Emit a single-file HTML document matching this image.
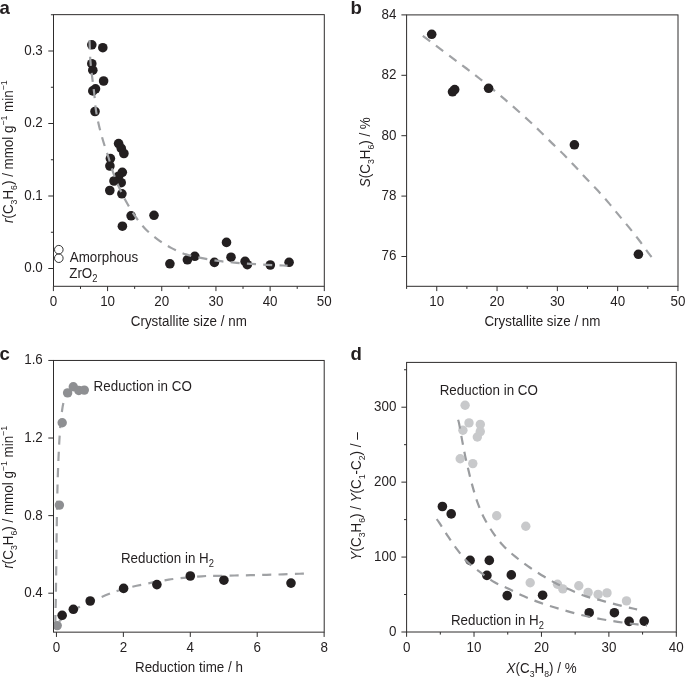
<!DOCTYPE html>
<html><head><meta charset="utf-8"><style>
html,body{margin:0;padding:0;background:#fff;width:685px;height:677px;overflow:hidden;}
body{position:relative;font-family:"Liberation Sans",sans-serif;}
</style></head><body>
<svg width="685" height="677" viewBox="0 0 685 677" style="position:absolute;left:0;top:0;will-change:transform">
<rect x="0" y="0" width="685" height="677" fill="#fff"/>
<g font-family='"Liberation Sans", sans-serif' fill="#231f20">
<rect x="53.50" y="14.65" width="270.80" height="271.65" fill="none" stroke="#2e2c2c" stroke-width="1.00"/>
<line x1="53.40" y1="286.30" x2="53.40" y2="291.10" stroke="#2e2c2c" stroke-width="1.00"/>
<line x1="107.58" y1="286.30" x2="107.58" y2="291.10" stroke="#2e2c2c" stroke-width="1.00"/>
<line x1="161.76" y1="286.30" x2="161.76" y2="291.10" stroke="#2e2c2c" stroke-width="1.00"/>
<line x1="215.94" y1="286.30" x2="215.94" y2="291.10" stroke="#2e2c2c" stroke-width="1.00"/>
<line x1="270.12" y1="286.30" x2="270.12" y2="291.10" stroke="#2e2c2c" stroke-width="1.00"/>
<line x1="324.30" y1="286.30" x2="324.30" y2="291.10" stroke="#2e2c2c" stroke-width="1.00"/>
<line x1="80.49" y1="286.30" x2="80.49" y2="288.90" stroke="#2e2c2c" stroke-width="1.00"/>
<line x1="134.67" y1="286.30" x2="134.67" y2="288.90" stroke="#2e2c2c" stroke-width="1.00"/>
<line x1="188.85" y1="286.30" x2="188.85" y2="288.90" stroke="#2e2c2c" stroke-width="1.00"/>
<line x1="243.03" y1="286.30" x2="243.03" y2="288.90" stroke="#2e2c2c" stroke-width="1.00"/>
<line x1="297.21" y1="286.30" x2="297.21" y2="288.90" stroke="#2e2c2c" stroke-width="1.00"/>
<line x1="48.30" y1="268.50" x2="53.50" y2="268.50" stroke="#2e2c2c" stroke-width="1.00"/>
<line x1="48.30" y1="196.00" x2="53.50" y2="196.00" stroke="#2e2c2c" stroke-width="1.00"/>
<line x1="48.30" y1="123.50" x2="53.50" y2="123.50" stroke="#2e2c2c" stroke-width="1.00"/>
<line x1="48.30" y1="51.00" x2="53.50" y2="51.00" stroke="#2e2c2c" stroke-width="1.00"/>
<line x1="50.90" y1="232.25" x2="53.50" y2="232.25" stroke="#2e2c2c" stroke-width="1.00"/>
<line x1="50.90" y1="159.75" x2="53.50" y2="159.75" stroke="#2e2c2c" stroke-width="1.00"/>
<line x1="50.90" y1="87.25" x2="53.50" y2="87.25" stroke="#2e2c2c" stroke-width="1.00"/>
<line x1="50.90" y1="14.75" x2="53.50" y2="14.75" stroke="#2e2c2c" stroke-width="1.00"/>
<text transform="translate(53.40,306.40) scale(0.9371,1)" font-size="14.3" font-weight="normal" text-anchor="middle" >0</text>
<text transform="translate(107.58,306.40) scale(0.9371,1)" font-size="14.3" font-weight="normal" text-anchor="middle" >10</text>
<text transform="translate(161.76,306.40) scale(0.9371,1)" font-size="14.3" font-weight="normal" text-anchor="middle" >20</text>
<text transform="translate(215.94,306.40) scale(0.9371,1)" font-size="14.3" font-weight="normal" text-anchor="middle" >30</text>
<text transform="translate(270.12,306.40) scale(0.9371,1)" font-size="14.3" font-weight="normal" text-anchor="middle" >40</text>
<text transform="translate(324.30,306.40) scale(0.9371,1)" font-size="14.3" font-weight="normal" text-anchor="middle" >50</text>
<text transform="translate(42.80,272.40) scale(0.9371,1)" font-size="14.3" font-weight="normal" text-anchor="end" >0.0</text>
<text transform="translate(42.80,199.90) scale(0.9371,1)" font-size="14.3" font-weight="normal" text-anchor="end" >0.1</text>
<text transform="translate(42.80,127.40) scale(0.9371,1)" font-size="14.3" font-weight="normal" text-anchor="end" >0.2</text>
<text transform="translate(42.80,54.90) scale(0.9371,1)" font-size="14.3" font-weight="normal" text-anchor="end" >0.3</text>
<text transform="translate(188.80,325.80) scale(0.9371,1)" font-size="14.3" font-weight="normal" text-anchor="middle" >Crystallite size / nm</text>
<circle cx="91.80" cy="44.80" r="4.80" fill="#231f20"/>
<circle cx="102.80" cy="47.70" r="4.80" fill="#231f20"/>
<circle cx="91.80" cy="63.70" r="4.80" fill="#231f20"/>
<circle cx="92.80" cy="70.20" r="4.80" fill="#231f20"/>
<circle cx="103.60" cy="81.00" r="4.80" fill="#231f20"/>
<circle cx="95.50" cy="88.80" r="4.80" fill="#231f20"/>
<circle cx="92.80" cy="90.90" r="4.80" fill="#231f20"/>
<circle cx="95.00" cy="111.50" r="4.80" fill="#231f20"/>
<circle cx="118.60" cy="143.60" r="4.80" fill="#231f20"/>
<circle cx="121.30" cy="148.40" r="4.80" fill="#231f20"/>
<circle cx="123.90" cy="153.50" r="4.80" fill="#231f20"/>
<circle cx="110.40" cy="158.60" r="4.80" fill="#231f20"/>
<circle cx="109.90" cy="166.00" r="4.80" fill="#231f20"/>
<circle cx="122.30" cy="172.30" r="4.80" fill="#231f20"/>
<circle cx="118.60" cy="176.20" r="4.80" fill="#231f20"/>
<circle cx="114.00" cy="181.00" r="4.80" fill="#231f20"/>
<circle cx="121.20" cy="182.70" r="4.80" fill="#231f20"/>
<circle cx="109.80" cy="190.50" r="4.80" fill="#231f20"/>
<circle cx="121.90" cy="193.80" r="4.80" fill="#231f20"/>
<circle cx="131.10" cy="215.80" r="4.80" fill="#231f20"/>
<circle cx="154.00" cy="215.30" r="4.80" fill="#231f20"/>
<circle cx="122.40" cy="226.20" r="4.80" fill="#231f20"/>
<circle cx="169.90" cy="263.80" r="4.80" fill="#231f20"/>
<circle cx="187.40" cy="259.80" r="4.80" fill="#231f20"/>
<circle cx="194.80" cy="256.30" r="4.80" fill="#231f20"/>
<circle cx="214.40" cy="262.40" r="4.80" fill="#231f20"/>
<circle cx="226.50" cy="242.40" r="4.80" fill="#231f20"/>
<circle cx="231.00" cy="257.20" r="4.80" fill="#231f20"/>
<circle cx="245.10" cy="261.40" r="4.80" fill="#231f20"/>
<circle cx="247.30" cy="264.70" r="4.80" fill="#231f20"/>
<circle cx="270.30" cy="265.00" r="4.80" fill="#231f20"/>
<circle cx="289.10" cy="262.30" r="4.80" fill="#231f20"/>
<path d="M89.50,40.30 C89.65,43.70 89.96,54.60 90.40,60.70 C90.84,66.80 91.52,71.49 92.15,76.90 C92.78,82.31 93.58,87.73 94.20,93.15 C94.82,98.57 95.07,104.06 95.85,109.40 C96.63,114.74 97.68,119.93 98.90,125.20 C100.12,130.47 101.60,135.78 103.15,141.00 C104.70,146.22 106.58,151.37 108.20,156.50 C109.83,161.63 111.08,166.63 112.90,171.80 C114.73,176.97 116.90,182.47 119.15,187.50 C121.40,192.53 123.76,197.25 126.40,202.00 C129.04,206.75 131.88,211.56 135.00,216.00 C138.12,220.44 141.39,224.77 145.15,228.65 C148.91,232.53 153.22,236.10 157.55,239.30 C161.88,242.50 166.41,245.33 171.15,247.85 C175.89,250.37 180.83,252.68 186.00,254.40 C191.17,256.12 196.75,257.07 202.15,258.15 C207.55,259.23 213.05,260.16 218.40,260.90 C223.75,261.64 228.83,262.12 234.25,262.60 C239.67,263.08 245.42,263.43 250.90,263.80 C256.38,264.17 261.77,264.52 267.15,264.80 C272.52,265.08 279.74,265.38 283.15,265.50 C286.56,265.62 286.86,265.50 287.60,265.50" fill="none" stroke="#a0a2a5" stroke-width="2.20" stroke-dasharray="9.1 7.23" stroke-dashoffset="0.00"/>
<circle cx="58.80" cy="249.70" r="4.3" fill="none" stroke="#333" stroke-width="1.0"/>
<circle cx="58.80" cy="258.20" r="4.3" fill="none" stroke="#333" stroke-width="1.0"/>
<text transform="translate(69.70,261.80) scale(0.9371,1)" font-size="14.3" font-weight="normal" text-anchor="start" >Amorphous</text>
<text transform="translate(69.20,277.70) scale(0.9371,1)" font-size="14.3" font-weight="normal" text-anchor="start" ><tspan>ZrO</tspan><tspan dy="4.00" font-size="10.0">2</tspan></text>
<text transform="translate(13.1,151.7) rotate(-90) scale(0.9371,1)" font-size="14.3" text-anchor="middle"><tspan font-style="italic">r</tspan><tspan>(C</tspan><tspan dy="4.00" font-size="9.3">3</tspan><tspan dy="-4.00">H</tspan><tspan dy="4.00" font-size="9.3">6</tspan><tspan dy="-4.00">) / mmol g</tspan><tspan dy="-6.00" font-size="9.3">−1</tspan><tspan dy="6.00"> min</tspan><tspan dy="-6.00" font-size="9.3">−1</tspan></text>
<text x="-0.60" y="14.00" font-size="18.6" font-weight="bold" text-anchor="start" >a</text>
<rect x="406.60" y="14.90" width="271.40" height="271.40" fill="none" stroke="#2e2c2c" stroke-width="1.00"/>
<line x1="436.75" y1="286.30" x2="436.75" y2="291.10" stroke="#2e2c2c" stroke-width="1.00"/>
<line x1="497.05" y1="286.30" x2="497.05" y2="291.10" stroke="#2e2c2c" stroke-width="1.00"/>
<line x1="557.35" y1="286.30" x2="557.35" y2="291.10" stroke="#2e2c2c" stroke-width="1.00"/>
<line x1="617.65" y1="286.30" x2="617.65" y2="291.10" stroke="#2e2c2c" stroke-width="1.00"/>
<line x1="677.95" y1="286.30" x2="677.95" y2="291.10" stroke="#2e2c2c" stroke-width="1.00"/>
<line x1="406.60" y1="286.30" x2="406.60" y2="288.90" stroke="#2e2c2c" stroke-width="1.00"/>
<line x1="466.90" y1="286.30" x2="466.90" y2="288.90" stroke="#2e2c2c" stroke-width="1.00"/>
<line x1="527.20" y1="286.30" x2="527.20" y2="288.90" stroke="#2e2c2c" stroke-width="1.00"/>
<line x1="587.50" y1="286.30" x2="587.50" y2="288.90" stroke="#2e2c2c" stroke-width="1.00"/>
<line x1="647.80" y1="286.30" x2="647.80" y2="288.90" stroke="#2e2c2c" stroke-width="1.00"/>
<line x1="401.40" y1="256.50" x2="406.60" y2="256.50" stroke="#2e2c2c" stroke-width="1.00"/>
<line x1="401.40" y1="196.10" x2="406.60" y2="196.10" stroke="#2e2c2c" stroke-width="1.00"/>
<line x1="401.40" y1="135.70" x2="406.60" y2="135.70" stroke="#2e2c2c" stroke-width="1.00"/>
<line x1="401.40" y1="75.30" x2="406.60" y2="75.30" stroke="#2e2c2c" stroke-width="1.00"/>
<line x1="401.40" y1="14.90" x2="406.60" y2="14.90" stroke="#2e2c2c" stroke-width="1.00"/>
<text transform="translate(436.75,306.40) scale(0.9371,1)" font-size="14.3" font-weight="normal" text-anchor="middle" >10</text>
<text transform="translate(497.05,306.40) scale(0.9371,1)" font-size="14.3" font-weight="normal" text-anchor="middle" >20</text>
<text transform="translate(557.35,306.40) scale(0.9371,1)" font-size="14.3" font-weight="normal" text-anchor="middle" >30</text>
<text transform="translate(617.65,306.40) scale(0.9371,1)" font-size="14.3" font-weight="normal" text-anchor="middle" >40</text>
<text transform="translate(677.95,306.40) scale(0.9371,1)" font-size="14.3" font-weight="normal" text-anchor="middle" >50</text>
<text transform="translate(396.40,260.40) scale(0.9371,1)" font-size="14.3" font-weight="normal" text-anchor="end" >76</text>
<text transform="translate(396.40,200.00) scale(0.9371,1)" font-size="14.3" font-weight="normal" text-anchor="end" >78</text>
<text transform="translate(396.40,139.60) scale(0.9371,1)" font-size="14.3" font-weight="normal" text-anchor="end" >80</text>
<text transform="translate(396.40,79.20) scale(0.9371,1)" font-size="14.3" font-weight="normal" text-anchor="end" >82</text>
<text transform="translate(396.40,18.80) scale(0.9371,1)" font-size="14.3" font-weight="normal" text-anchor="end" >84</text>
<text transform="translate(542.40,326.00) scale(0.9371,1)" font-size="14.3" font-weight="normal" text-anchor="middle" >Crystallite size / nm</text>
<path d="M423.30,36.30 C423.95,36.78 420.00,33.83 427.20,39.20 C434.40,44.57 457.78,61.95 466.50,68.50 C475.22,75.05 473.15,73.38 479.50,78.50 C485.85,83.62 496.37,92.17 504.60,99.20 C512.83,106.23 522.88,115.23 528.90,120.70 C534.92,126.17 536.82,128.22 540.70,132.00 C544.58,135.78 548.32,139.60 552.20,143.40 C556.08,147.20 560.17,150.93 564.00,154.80 C567.83,158.67 571.45,162.60 575.20,166.60 C578.95,170.60 582.73,174.80 586.50,178.80 C590.27,182.80 594.10,186.58 597.80,190.60 C601.50,194.62 605.17,198.77 608.70,202.90 C612.23,207.03 615.55,211.23 619.00,215.40 C622.45,219.57 625.95,223.63 629.40,227.90 C632.85,232.17 636.38,236.62 639.70,241.00 C643.02,245.38 647.22,251.42 649.30,254.20 C651.38,256.98 651.72,257.12 652.20,257.70" fill="none" stroke="#a0a2a5" stroke-width="2.20" stroke-dasharray="9.1 7.23" stroke-dashoffset="-0.80"/>
<circle cx="431.70" cy="34.30" r="4.80" fill="#231f20"/>
<circle cx="452.50" cy="91.80" r="4.80" fill="#231f20"/>
<circle cx="454.70" cy="89.60" r="4.80" fill="#231f20"/>
<circle cx="488.60" cy="88.30" r="4.80" fill="#231f20"/>
<circle cx="574.40" cy="144.80" r="4.80" fill="#231f20"/>
<circle cx="638.40" cy="254.30" r="4.80" fill="#231f20"/>
<text transform="translate(370.0,152.2) rotate(-90) scale(0.9371,1)" font-size="14.3" text-anchor="middle"><tspan font-style="italic">S</tspan><tspan>(C</tspan><tspan dy="4.00" font-size="9.3">3</tspan><tspan dy="-4.00">H</tspan><tspan dy="4.00" font-size="9.3">6</tspan><tspan dy="-4.00">) / %</tspan></text>
<text x="350.60" y="14.00" font-size="18.6" font-weight="bold" text-anchor="start" >b</text>
<rect x="53.50" y="360.45" width="270.70" height="271.70" fill="none" stroke="#2e2c2c" stroke-width="1.00"/>
<line x1="56.45" y1="632.15" x2="56.45" y2="636.95" stroke="#2e2c2c" stroke-width="1.00"/>
<line x1="123.37" y1="632.15" x2="123.37" y2="636.95" stroke="#2e2c2c" stroke-width="1.00"/>
<line x1="190.29" y1="632.15" x2="190.29" y2="636.95" stroke="#2e2c2c" stroke-width="1.00"/>
<line x1="257.21" y1="632.15" x2="257.21" y2="636.95" stroke="#2e2c2c" stroke-width="1.00"/>
<line x1="324.13" y1="632.15" x2="324.13" y2="636.95" stroke="#2e2c2c" stroke-width="1.00"/>
<line x1="48.30" y1="593.20" x2="53.50" y2="593.20" stroke="#2e2c2c" stroke-width="1.00"/>
<line x1="48.30" y1="515.62" x2="53.50" y2="515.62" stroke="#2e2c2c" stroke-width="1.00"/>
<line x1="48.30" y1="438.03" x2="53.50" y2="438.03" stroke="#2e2c2c" stroke-width="1.00"/>
<line x1="48.30" y1="360.45" x2="53.50" y2="360.45" stroke="#2e2c2c" stroke-width="1.00"/>
<text transform="translate(56.45,652.25) scale(0.9371,1)" font-size="14.3" font-weight="normal" text-anchor="middle" >0</text>
<text transform="translate(123.37,652.25) scale(0.9371,1)" font-size="14.3" font-weight="normal" text-anchor="middle" >2</text>
<text transform="translate(190.29,652.25) scale(0.9371,1)" font-size="14.3" font-weight="normal" text-anchor="middle" >4</text>
<text transform="translate(257.21,652.25) scale(0.9371,1)" font-size="14.3" font-weight="normal" text-anchor="middle" >6</text>
<text transform="translate(324.13,652.25) scale(0.9371,1)" font-size="14.3" font-weight="normal" text-anchor="middle" >8</text>
<text transform="translate(42.80,597.10) scale(0.9371,1)" font-size="14.3" font-weight="normal" text-anchor="end" >0.4</text>
<text transform="translate(42.80,519.52) scale(0.9371,1)" font-size="14.3" font-weight="normal" text-anchor="end" >0.8</text>
<text transform="translate(42.80,441.93) scale(0.9371,1)" font-size="14.3" font-weight="normal" text-anchor="end" >1.2</text>
<text transform="translate(42.80,364.35) scale(0.9371,1)" font-size="14.3" font-weight="normal" text-anchor="end" >1.6</text>
<text transform="translate(188.90,672.05) scale(0.9371,1)" font-size="14.3" font-weight="normal" text-anchor="middle" >Reduction time / h</text>
<path d="M55.30,631.00 C55.32,628.33 55.32,620.17 55.40,615.00 C55.48,609.83 55.67,607.50 55.80,600.00 C55.93,592.50 56.05,581.67 56.20,570.00 C56.35,558.33 56.52,542.50 56.70,530.00 C56.88,517.50 57.10,504.50 57.30,495.00 C57.50,485.50 57.68,479.50 57.90,473.00 C58.12,466.50 58.35,461.50 58.60,456.00 C58.85,450.50 59.08,445.33 59.40,440.00 C59.72,434.67 60.07,428.83 60.50,424.00 C60.93,419.17 61.52,414.50 62.00,411.00 C62.48,407.50 62.82,405.50 63.40,403.00 C63.98,400.50 64.65,397.92 65.50,396.00 C66.35,394.08 67.42,392.67 68.50,391.50 C69.58,390.33 70.75,389.58 72.00,389.00 C73.25,388.42 74.50,388.25 76.00,388.00 C77.50,387.75 79.33,387.62 81.00,387.50 C82.67,387.38 85.17,387.33 86.00,387.30" fill="none" stroke="#a0a2a5" stroke-width="2.20" stroke-dasharray="9.1 7.23" stroke-dashoffset="-6.80"/>
<path d="M56.50,624.50 C57.25,623.72 57.22,622.72 61.00,619.80 C64.78,616.88 71.78,611.08 79.20,607.00 C86.62,602.92 99.08,598.05 105.50,595.35 C111.92,592.65 112.56,592.39 117.75,590.80 C122.94,589.21 128.15,587.66 136.65,585.80 C145.15,583.94 157.92,581.23 168.75,579.65 C179.58,578.07 193.46,576.93 201.65,576.30 C209.84,575.67 212.43,575.98 217.90,575.85 C223.37,575.72 229.03,575.61 234.45,575.50 C239.87,575.39 245.03,575.32 250.40,575.20 C255.77,575.08 261.22,574.94 266.65,574.80 C272.08,574.66 277.53,574.52 283.00,574.35 C288.47,574.18 295.97,573.86 299.45,573.75 C302.93,573.64 303.16,573.71 303.90,573.70" fill="none" stroke="#a0a2a5" stroke-width="2.20" stroke-dasharray="9.1 7.23" stroke-dashoffset="-4.26"/>
<clipPath id="cc"><rect x="54.00" y="360.45" width="270.70" height="271.20"/></clipPath>
<g clip-path="url(#cc)">
<circle cx="57.20" cy="625.60" r="4.70" fill="#8e8f92"/>
<circle cx="59.40" cy="505.10" r="4.70" fill="#8e8f92"/>
<circle cx="62.20" cy="422.80" r="4.70" fill="#8e8f92"/>
<circle cx="67.60" cy="392.90" r="4.70" fill="#8e8f92"/>
<circle cx="73.30" cy="386.80" r="4.70" fill="#8e8f92"/>
<circle cx="78.80" cy="390.50" r="4.70" fill="#8e8f92"/>
<circle cx="84.30" cy="390.10" r="4.70" fill="#8e8f92"/>
</g>
<circle cx="62.15" cy="615.30" r="4.80" fill="#231f20"/>
<circle cx="73.35" cy="609.30" r="4.80" fill="#231f20"/>
<circle cx="90.20" cy="601.00" r="4.80" fill="#231f20"/>
<circle cx="123.60" cy="588.40" r="4.80" fill="#231f20"/>
<circle cx="156.90" cy="584.60" r="4.80" fill="#231f20"/>
<circle cx="190.30" cy="576.00" r="4.80" fill="#231f20"/>
<circle cx="223.90" cy="580.20" r="4.80" fill="#231f20"/>
<circle cx="291.00" cy="583.10" r="4.80" fill="#231f20"/>
<text transform="translate(93.60,390.50) scale(0.9371,1)" font-size="14.3" font-weight="normal" text-anchor="start" >Reduction in CO</text>
<text transform="translate(120.90,562.50) scale(0.9371,1)" font-size="14.3" font-weight="normal" text-anchor="start" ><tspan>Reduction in H</tspan><tspan dy="4.00" font-size="10.0">2</tspan></text>
<text transform="translate(13.1,497.3) rotate(-90) scale(0.9371,1)" font-size="14.3" text-anchor="middle"><tspan font-style="italic">r</tspan><tspan>(C</tspan><tspan dy="4.00" font-size="9.3">3</tspan><tspan dy="-4.00">H</tspan><tspan dy="4.00" font-size="9.3">6</tspan><tspan dy="-4.00">) / mmol g</tspan><tspan dy="-6.00" font-size="9.3">−1</tspan><tspan dy="6.00"> min</tspan><tspan dy="-6.00" font-size="9.3">−1</tspan></text>
<text x="-0.40" y="360.20" font-size="18.6" font-weight="bold" text-anchor="start" >c</text>
<rect x="406.60" y="362.40" width="269.70" height="269.60" fill="none" stroke="#2e2c2c" stroke-width="1.00"/>
<line x1="406.60" y1="632.00" x2="406.60" y2="636.80" stroke="#2e2c2c" stroke-width="1.00"/>
<line x1="474.03" y1="632.00" x2="474.03" y2="636.80" stroke="#2e2c2c" stroke-width="1.00"/>
<line x1="541.45" y1="632.00" x2="541.45" y2="636.80" stroke="#2e2c2c" stroke-width="1.00"/>
<line x1="608.88" y1="632.00" x2="608.88" y2="636.80" stroke="#2e2c2c" stroke-width="1.00"/>
<line x1="676.30" y1="632.00" x2="676.30" y2="636.80" stroke="#2e2c2c" stroke-width="1.00"/>
<line x1="440.31" y1="632.00" x2="440.31" y2="634.60" stroke="#2e2c2c" stroke-width="1.00"/>
<line x1="507.74" y1="632.00" x2="507.74" y2="634.60" stroke="#2e2c2c" stroke-width="1.00"/>
<line x1="575.16" y1="632.00" x2="575.16" y2="634.60" stroke="#2e2c2c" stroke-width="1.00"/>
<line x1="642.59" y1="632.00" x2="642.59" y2="634.60" stroke="#2e2c2c" stroke-width="1.00"/>
<line x1="401.40" y1="632.00" x2="406.60" y2="632.00" stroke="#2e2c2c" stroke-width="1.00"/>
<line x1="401.40" y1="557.07" x2="406.60" y2="557.07" stroke="#2e2c2c" stroke-width="1.00"/>
<line x1="401.40" y1="482.14" x2="406.60" y2="482.14" stroke="#2e2c2c" stroke-width="1.00"/>
<line x1="401.40" y1="407.21" x2="406.60" y2="407.21" stroke="#2e2c2c" stroke-width="1.00"/>
<line x1="404.00" y1="594.53" x2="406.60" y2="594.53" stroke="#2e2c2c" stroke-width="1.00"/>
<line x1="404.00" y1="519.61" x2="406.60" y2="519.61" stroke="#2e2c2c" stroke-width="1.00"/>
<line x1="404.00" y1="444.68" x2="406.60" y2="444.68" stroke="#2e2c2c" stroke-width="1.00"/>
<line x1="404.00" y1="369.75" x2="406.60" y2="369.75" stroke="#2e2c2c" stroke-width="1.00"/>
<text transform="translate(406.60,652.10) scale(0.9371,1)" font-size="14.3" font-weight="normal" text-anchor="middle" >0</text>
<text transform="translate(474.03,652.10) scale(0.9371,1)" font-size="14.3" font-weight="normal" text-anchor="middle" >10</text>
<text transform="translate(541.45,652.10) scale(0.9371,1)" font-size="14.3" font-weight="normal" text-anchor="middle" >20</text>
<text transform="translate(608.88,652.10) scale(0.9371,1)" font-size="14.3" font-weight="normal" text-anchor="middle" >30</text>
<text transform="translate(676.30,652.10) scale(0.9371,1)" font-size="14.3" font-weight="normal" text-anchor="middle" >40</text>
<text transform="translate(396.40,635.90) scale(0.9371,1)" font-size="14.3" font-weight="normal" text-anchor="end" >0</text>
<text transform="translate(396.40,560.97) scale(0.9371,1)" font-size="14.3" font-weight="normal" text-anchor="end" >100</text>
<text transform="translate(396.40,486.04) scale(0.9371,1)" font-size="14.3" font-weight="normal" text-anchor="end" >200</text>
<text transform="translate(396.40,411.11) scale(0.9371,1)" font-size="14.3" font-weight="normal" text-anchor="end" >300</text>
<text transform="translate(541.6,672.8) scale(0.9371,1)" font-size="14.3" text-anchor="middle"><tspan font-style="italic">X</tspan><tspan>(C</tspan><tspan dy="4.00" font-size="9.3">3</tspan><tspan dy="-4.00">H</tspan><tspan dy="4.00" font-size="9.3">8</tspan><tspan dy="-4.00">) / %</tspan></text>
<circle cx="465.10" cy="405.20" r="4.70" fill="#c8c9cb"/>
<circle cx="469.00" cy="422.90" r="4.70" fill="#c8c9cb"/>
<circle cx="462.90" cy="430.30" r="4.70" fill="#c8c9cb"/>
<circle cx="480.30" cy="424.40" r="4.70" fill="#c8c9cb"/>
<circle cx="480.30" cy="431.60" r="4.70" fill="#c8c9cb"/>
<circle cx="477.30" cy="437.00" r="4.70" fill="#c8c9cb"/>
<circle cx="460.20" cy="458.70" r="4.70" fill="#c8c9cb"/>
<circle cx="472.80" cy="463.60" r="4.70" fill="#c8c9cb"/>
<circle cx="496.70" cy="515.80" r="4.70" fill="#c8c9cb"/>
<circle cx="525.80" cy="526.30" r="4.70" fill="#c8c9cb"/>
<circle cx="530.20" cy="582.70" r="4.70" fill="#c8c9cb"/>
<circle cx="557.50" cy="584.20" r="4.70" fill="#c8c9cb"/>
<circle cx="562.80" cy="588.90" r="4.70" fill="#c8c9cb"/>
<circle cx="578.80" cy="585.80" r="4.70" fill="#c8c9cb"/>
<circle cx="588.10" cy="592.40" r="4.70" fill="#c8c9cb"/>
<circle cx="598.10" cy="594.40" r="4.70" fill="#c8c9cb"/>
<circle cx="607.00" cy="592.90" r="4.70" fill="#c8c9cb"/>
<circle cx="626.50" cy="600.90" r="4.70" fill="#c8c9cb"/>
<circle cx="442.40" cy="506.50" r="4.80" fill="#231f20"/>
<circle cx="451.20" cy="513.90" r="4.80" fill="#231f20"/>
<circle cx="470.10" cy="560.40" r="4.80" fill="#231f20"/>
<circle cx="489.30" cy="560.40" r="4.80" fill="#231f20"/>
<circle cx="486.90" cy="575.40" r="4.80" fill="#231f20"/>
<circle cx="511.30" cy="574.90" r="4.80" fill="#231f20"/>
<circle cx="507.20" cy="595.60" r="4.80" fill="#231f20"/>
<circle cx="542.60" cy="595.20" r="4.80" fill="#231f20"/>
<circle cx="589.20" cy="612.70" r="4.80" fill="#231f20"/>
<circle cx="614.40" cy="612.70" r="4.80" fill="#231f20"/>
<circle cx="629.10" cy="621.40" r="4.80" fill="#231f20"/>
<circle cx="644.20" cy="621.10" r="4.80" fill="#231f20"/>
<path d="M458.10,419.70 C458.28,420.42 458.53,420.60 459.20,424.00 C459.87,427.40 461.10,434.75 462.10,440.10 C463.10,445.45 464.07,450.77 465.20,456.10 C466.33,461.43 467.62,466.85 468.90,472.10 C470.18,477.35 471.42,482.43 472.90,487.60 C474.38,492.77 475.86,497.99 477.75,503.10 C479.64,508.21 481.75,513.38 484.25,518.25 C486.75,523.12 489.65,527.85 492.75,532.35 C495.85,536.85 499.19,541.28 502.85,545.25 C506.51,549.22 510.53,552.67 514.70,556.15 C518.87,559.62 523.42,562.97 527.85,566.10 C532.28,569.23 536.72,572.14 541.30,574.95 C545.88,577.76 550.48,580.47 555.30,582.95 C560.12,585.43 565.18,587.65 570.20,589.85 C575.23,592.05 580.32,594.39 585.45,596.15 C590.58,597.91 595.80,598.99 601.00,600.40 C606.20,601.81 611.33,603.24 616.65,604.60 C621.97,605.96 629.49,607.75 632.90,608.55 C636.31,609.35 636.40,609.26 637.10,609.40" fill="none" stroke="#9a9c9f" stroke-width="2.20" stroke-dasharray="9.1 7.23" stroke-dashoffset="-0.10"/>
<path d="M436.50,518.90 C436.95,519.52 437.27,519.69 439.20,522.60 C441.12,525.51 444.98,531.75 448.05,536.35 C451.12,540.95 454.36,545.87 457.65,550.20 C460.94,554.53 463.99,558.66 467.80,562.35 C471.61,566.04 476.04,569.04 480.50,572.35 C484.96,575.66 489.86,579.46 494.55,582.20 C499.24,584.94 503.82,586.48 508.65,588.80 C513.48,591.12 518.51,593.88 523.50,596.10 C528.49,598.33 533.49,600.29 538.60,602.15 C543.71,604.01 548.97,605.63 554.15,607.25 C559.33,608.87 564.42,610.38 569.70,611.85 C574.98,613.32 580.51,614.82 585.85,616.05 C591.19,617.28 596.43,618.28 601.75,619.25 C607.07,620.22 612.40,621.06 617.75,621.85 C623.10,622.64 628.98,623.38 633.85,624.00 C638.73,624.62 644.81,625.33 647.00,625.60" fill="none" stroke="#9a9c9f" stroke-width="2.20" stroke-dasharray="9.1 7.23" stroke-dashoffset="-0.30"/>
<text transform="translate(439.70,394.80) scale(0.9371,1)" font-size="14.3" font-weight="normal" text-anchor="start" >Reduction in CO</text>
<text transform="translate(450.90,624.50) scale(0.9371,1)" font-size="14.3" font-weight="normal" text-anchor="start" ><tspan>Reduction in H</tspan><tspan dy="4.00" font-size="10.0">2</tspan></text>
<text transform="translate(360.7,496.4) rotate(-90) scale(0.9371,1)" font-size="14.3" text-anchor="middle"><tspan font-style="italic">Y</tspan><tspan>(C</tspan><tspan dy="4.00" font-size="9.3">3</tspan><tspan dy="-4.00">H</tspan><tspan dy="4.00" font-size="9.3">6</tspan><tspan dy="-4.00">) / </tspan><tspan font-style="italic">Y</tspan><tspan>(C</tspan><tspan dy="4.00" font-size="9.3">1</tspan><tspan dy="-4.00">-C</tspan><tspan dy="4.00" font-size="9.3">2</tspan><tspan dy="-4.00">) / –</tspan></text>
<text x="350.50" y="360.40" font-size="18.6" font-weight="bold" text-anchor="start" >d</text>
</g></svg>
</body></html>
